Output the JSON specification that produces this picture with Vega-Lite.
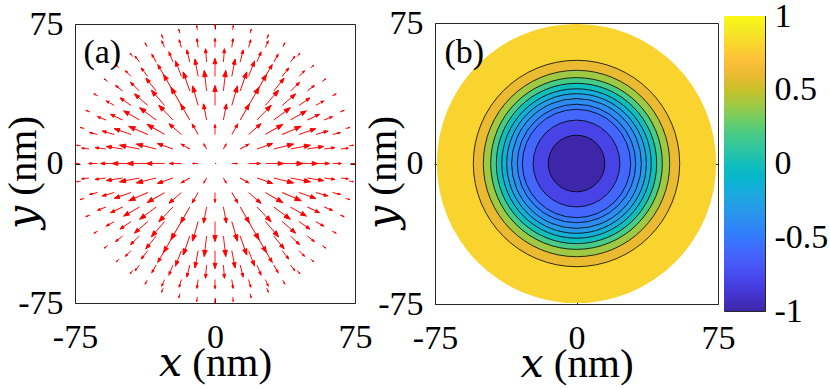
{
"$schema": "https://vega.github.io/schema/vega-lite/v6.json",
"padding": {"left": 2, "top": -2, "right": 0, "bottom": 0},
"config": {
  "font": "Liberation Serif",
  "view": {"stroke": "#262626", "strokeWidth": 1},
  "axis": {"grid": false, "domain": false, "tickSize": -5, "tickColor": "#262626", "tickWidth": 1, "labelFont": "Liberation Serif", "labelFontSize": 34, "labelColor": "#000000", "titleFont": "Liberation Serif, DejaVu Serif", "titleFontSize": 41, "titleFontWeight": "normal", "titleColor": "#000000", "zindex": 1, "labelFlush": false, "labelOverlap": false, "labelBound": false},
  "axisX": {"labelPadding": 22},
  "axisY": {"labelPadding": 17}
},
"datasets": {
  "arrows": [
{"x":0,"y":0,"m":0.05,"p":0},
{"x":9,"y":0,"m":0.27,"p":0},{"x":-9,"y":0,"m":0.27,"p":180},
{"x":18,"y":0,"m":0.57,"p":0},{"x":-18,"y":0,"m":0.57,"p":180},
{"x":27,"y":0,"m":0.87,"p":0},{"x":-27,"y":0,"m":0.87,"p":180},
{"x":36,"y":0,"m":1,"p":0},{"x":-36,"y":0,"m":1,"p":180},
{"x":45,"y":0,"m":0.9,"p":0},{"x":-45,"y":0,"m":0.9,"p":180},
{"x":54,"y":0,"m":0.65,"p":0},{"x":-54,"y":0,"m":0.65,"p":180},
{"x":63,"y":0,"m":0.42,"p":0},{"x":-63,"y":0,"m":0.42,"p":180},
{"x":4.5,"y":7.8,"m":0.27,"p":60},{"x":-4.5,"y":7.8,"m":0.27,"p":120},{"x":-4.5,"y":-7.8,"m":0.27,"p":240},{"x":4.5,"y":-7.8,"m":0.27,"p":300},
{"x":13.5,"y":7.8,"m":0.47,"p":30},{"x":-13.5,"y":7.8,"m":0.47,"p":150},{"x":-13.5,"y":-7.8,"m":0.47,"p":210},{"x":13.5,"y":-7.8,"m":0.47,"p":330},
{"x":22.5,"y":7.8,"m":0.78,"p":19.1},{"x":-22.5,"y":7.8,"m":0.78,"p":160.9},{"x":-22.5,"y":-7.8,"m":0.78,"p":199.1},{"x":22.5,"y":-7.8,"m":0.78,"p":340.9},
{"x":31.5,"y":7.8,"m":0.97,"p":13.9},{"x":-31.5,"y":7.8,"m":0.97,"p":166.1},{"x":-31.5,"y":-7.8,"m":0.97,"p":193.9},{"x":31.5,"y":-7.8,"m":0.97,"p":346.1},
{"x":40.5,"y":7.8,"m":0.96,"p":10.9},{"x":-40.5,"y":7.8,"m":0.96,"p":169.1},{"x":-40.5,"y":-7.8,"m":0.96,"p":190.9},{"x":40.5,"y":-7.8,"m":0.96,"p":349.1},
{"x":49.5,"y":7.8,"m":0.78,"p":9},{"x":-49.5,"y":7.8,"m":0.78,"p":171},{"x":-49.5,"y":-7.8,"m":0.78,"p":189},{"x":49.5,"y":-7.8,"m":0.78,"p":351},
{"x":58.5,"y":7.8,"m":0.51,"p":7.6},{"x":-58.5,"y":7.8,"m":0.51,"p":172.4},{"x":-58.5,"y":-7.8,"m":0.51,"p":187.6},{"x":58.5,"y":-7.8,"m":0.51,"p":352.4},
{"x":67.5,"y":7.8,"m":0.35,"p":6.6},{"x":-67.5,"y":7.8,"m":0.35,"p":173.4},{"x":-67.5,"y":-7.8,"m":0.35,"p":186.6},{"x":67.5,"y":-7.8,"m":0.35,"p":353.4},
{"x":0,"y":15.6,"m":0.47,"p":90},{"x":0,"y":-15.6,"m":0.47,"p":270},
{"x":9,"y":15.6,"m":0.57,"p":60},{"x":-9,"y":15.6,"m":0.57,"p":120},{"x":-9,"y":-15.6,"m":0.57,"p":240},{"x":9,"y":-15.6,"m":0.57,"p":300},
{"x":18,"y":15.6,"m":0.78,"p":40.9},{"x":-18,"y":15.6,"m":0.78,"p":139.1},{"x":-18,"y":-15.6,"m":0.78,"p":220.9},{"x":18,"y":-15.6,"m":0.78,"p":319.1},
{"x":27,"y":15.6,"m":0.95,"p":30},{"x":-27,"y":15.6,"m":0.95,"p":150},{"x":-27,"y":-15.6,"m":0.95,"p":210},{"x":27,"y":-15.6,"m":0.95,"p":330},
{"x":36,"y":15.6,"m":0.98,"p":23.4},{"x":-36,"y":15.6,"m":0.98,"p":156.6},{"x":-36,"y":-15.6,"m":0.98,"p":203.4},{"x":36,"y":-15.6,"m":0.98,"p":336.6},
{"x":45,"y":15.6,"m":0.84,"p":19.1},{"x":-45,"y":15.6,"m":0.84,"p":160.9},{"x":-45,"y":-15.6,"m":0.84,"p":199.1},{"x":45,"y":-15.6,"m":0.84,"p":340.9},
{"x":54,"y":15.6,"m":0.59,"p":16.1},{"x":-54,"y":15.6,"m":0.59,"p":163.9},{"x":-54,"y":-15.6,"m":0.59,"p":196.1},{"x":54,"y":-15.6,"m":0.59,"p":343.9},
{"x":63,"y":15.6,"m":0.38,"p":13.9},{"x":-63,"y":15.6,"m":0.38,"p":166.1},{"x":-63,"y":-15.6,"m":0.38,"p":193.9},{"x":63,"y":-15.6,"m":0.38,"p":346.1},
{"x":4.5,"y":23.4,"m":0.78,"p":79.1},{"x":-4.5,"y":23.4,"m":0.78,"p":100.9},{"x":-4.5,"y":-23.4,"m":0.78,"p":259.1},{"x":4.5,"y":-23.4,"m":0.78,"p":280.9},
{"x":13.5,"y":23.4,"m":0.87,"p":60},{"x":-13.5,"y":23.4,"m":0.87,"p":120},{"x":-13.5,"y":-23.4,"m":0.87,"p":240},{"x":13.5,"y":-23.4,"m":0.87,"p":300},
{"x":22.5,"y":23.4,"m":0.97,"p":46.1},{"x":-22.5,"y":23.4,"m":0.97,"p":133.9},{"x":-22.5,"y":-23.4,"m":0.97,"p":226.1},{"x":22.5,"y":-23.4,"m":0.97,"p":313.9},
{"x":31.5,"y":23.4,"m":0.98,"p":36.6},{"x":-31.5,"y":23.4,"m":0.98,"p":143.4},{"x":-31.5,"y":-23.4,"m":0.98,"p":216.6},{"x":31.5,"y":-23.4,"m":0.98,"p":323.4},
{"x":40.5,"y":23.4,"m":0.86,"p":30},{"x":-40.5,"y":23.4,"m":0.86,"p":150},{"x":-40.5,"y":-23.4,"m":0.86,"p":210},{"x":40.5,"y":-23.4,"m":0.86,"p":330},
{"x":49.5,"y":23.4,"m":0.63,"p":25.3},{"x":-49.5,"y":23.4,"m":0.63,"p":154.7},{"x":-49.5,"y":-23.4,"m":0.63,"p":205.3},{"x":49.5,"y":-23.4,"m":0.63,"p":334.7},
{"x":58.5,"y":23.4,"m":0.42,"p":21.8},{"x":-58.5,"y":23.4,"m":0.42,"p":158.2},{"x":-58.5,"y":-23.4,"m":0.42,"p":201.8},{"x":58.5,"y":-23.4,"m":0.42,"p":338.2},
{"x":0,"y":31.2,"m":0.95,"p":90},{"x":0,"y":-31.2,"m":0.95,"p":270},
{"x":9,"y":31.2,"m":0.97,"p":73.9},{"x":-9,"y":31.2,"m":0.97,"p":106.1},{"x":-9,"y":-31.2,"m":0.97,"p":253.9},{"x":9,"y":-31.2,"m":0.97,"p":286.1},
{"x":18,"y":31.2,"m":1,"p":60},{"x":-18,"y":31.2,"m":1,"p":120},{"x":-18,"y":-31.2,"m":1,"p":240},{"x":18,"y":-31.2,"m":1,"p":300},
{"x":27,"y":31.2,"m":0.96,"p":49.1},{"x":-27,"y":31.2,"m":0.96,"p":130.9},{"x":-27,"y":-31.2,"m":0.96,"p":229.1},{"x":27,"y":-31.2,"m":0.96,"p":310.9},
{"x":36,"y":31.2,"m":0.84,"p":40.9},{"x":-36,"y":31.2,"m":0.84,"p":139.1},{"x":-36,"y":-31.2,"m":0.84,"p":220.9},{"x":36,"y":-31.2,"m":0.84,"p":319.1},
{"x":45,"y":31.2,"m":0.63,"p":34.7},{"x":-45,"y":31.2,"m":0.63,"p":145.3},{"x":-45,"y":-31.2,"m":0.63,"p":214.7},{"x":45,"y":-31.2,"m":0.63,"p":325.3},
{"x":54,"y":31.2,"m":0.43,"p":30},{"x":-54,"y":31.2,"m":0.43,"p":150},{"x":-54,"y":-31.2,"m":0.43,"p":210},{"x":54,"y":-31.2,"m":0.43,"p":330},
{"x":4.5,"y":39,"m":0.98,"p":83.4},{"x":-4.5,"y":39,"m":0.98,"p":96.6},{"x":-4.5,"y":-39,"m":0.98,"p":263.4},{"x":4.5,"y":-39,"m":0.98,"p":276.6},
{"x":13.5,"y":39,"m":0.96,"p":70.9},{"x":-13.5,"y":39,"m":0.96,"p":109.1},{"x":-13.5,"y":-39,"m":0.96,"p":250.9},{"x":13.5,"y":-39,"m":0.96,"p":289.1},
{"x":22.5,"y":39,"m":0.9,"p":60},{"x":-22.5,"y":39,"m":0.9,"p":120},{"x":-22.5,"y":-39,"m":0.9,"p":240},{"x":22.5,"y":-39,"m":0.9,"p":300},
{"x":31.5,"y":39,"m":0.78,"p":51.1},{"x":-31.5,"y":39,"m":0.78,"p":128.9},{"x":-31.5,"y":-39,"m":0.78,"p":231.1},{"x":31.5,"y":-39,"m":0.78,"p":308.9},
{"x":40.5,"y":39,"m":0.59,"p":43.9},{"x":-40.5,"y":39,"m":0.59,"p":136.1},{"x":-40.5,"y":-39,"m":0.59,"p":223.9},{"x":40.5,"y":-39,"m":0.59,"p":316.1},
{"x":49.5,"y":39,"m":0.42,"p":38.2},{"x":-49.5,"y":39,"m":0.42,"p":141.8},{"x":-49.5,"y":-39,"m":0.42,"p":218.2},{"x":49.5,"y":-39,"m":0.42,"p":321.8},
{"x":0,"y":46.8,"m":0.86,"p":90},{"x":0,"y":-46.8,"m":0.86,"p":270},
{"x":9,"y":46.8,"m":0.84,"p":79.1},{"x":-9,"y":46.8,"m":0.84,"p":100.9},{"x":-9,"y":-46.8,"m":0.84,"p":259.1},{"x":9,"y":-46.8,"m":0.84,"p":280.9},
{"x":18,"y":46.8,"m":0.78,"p":69},{"x":-18,"y":46.8,"m":0.78,"p":111},{"x":-18,"y":-46.8,"m":0.78,"p":249},{"x":18,"y":-46.8,"m":0.78,"p":291},
{"x":27,"y":46.8,"m":0.65,"p":60},{"x":-27,"y":46.8,"m":0.65,"p":120},{"x":-27,"y":-46.8,"m":0.65,"p":240},{"x":27,"y":-46.8,"m":0.65,"p":300},
{"x":36,"y":46.8,"m":0.51,"p":52.4},{"x":-36,"y":46.8,"m":0.51,"p":127.6},{"x":-36,"y":-46.8,"m":0.51,"p":232.4},{"x":36,"y":-46.8,"m":0.51,"p":307.6},
{"x":45,"y":46.8,"m":0.38,"p":46.1},{"x":-45,"y":46.8,"m":0.38,"p":133.9},{"x":-45,"y":-46.8,"m":0.38,"p":226.1},{"x":45,"y":-46.8,"m":0.38,"p":313.9},
{"x":4.5,"y":54.6,"m":0.63,"p":85.3},{"x":-4.5,"y":54.6,"m":0.63,"p":94.7},{"x":-4.5,"y":-54.6,"m":0.63,"p":265.3},{"x":4.5,"y":-54.6,"m":0.63,"p":274.7},
{"x":13.5,"y":54.6,"m":0.59,"p":76.1},{"x":-13.5,"y":54.6,"m":0.59,"p":103.9},{"x":-13.5,"y":-54.6,"m":0.59,"p":256.1},{"x":13.5,"y":-54.6,"m":0.59,"p":283.9},
{"x":22.5,"y":54.6,"m":0.51,"p":67.6},{"x":-22.5,"y":54.6,"m":0.51,"p":112.4},{"x":-22.5,"y":-54.6,"m":0.51,"p":247.6},{"x":22.5,"y":-54.6,"m":0.51,"p":292.4},
{"x":31.5,"y":54.6,"m":0.42,"p":60},{"x":-31.5,"y":54.6,"m":0.42,"p":120},{"x":-31.5,"y":-54.6,"m":0.42,"p":240},{"x":31.5,"y":-54.6,"m":0.42,"p":300},
{"x":40.5,"y":54.6,"m":0.34,"p":53.4},{"x":-40.5,"y":54.6,"m":0.34,"p":126.6},{"x":-40.5,"y":-54.6,"m":0.34,"p":233.4},{"x":40.5,"y":-54.6,"m":0.34,"p":306.6},
{"x":0,"y":62.4,"m":0.43,"p":90},{"x":0,"y":-62.4,"m":0.43,"p":270},
{"x":9,"y":62.4,"m":0.42,"p":81.8},{"x":-9,"y":62.4,"m":0.42,"p":98.2},{"x":-9,"y":-62.4,"m":0.42,"p":261.8},{"x":9,"y":-62.4,"m":0.42,"p":278.2},
{"x":18,"y":62.4,"m":0.38,"p":73.9},{"x":-18,"y":62.4,"m":0.38,"p":106.1},{"x":-18,"y":-62.4,"m":0.38,"p":253.9},{"x":18,"y":-62.4,"m":0.38,"p":286.1},
{"x":27,"y":62.4,"m":0.34,"p":66.6},{"x":-27,"y":62.4,"m":0.34,"p":113.4},{"x":-27,"y":-62.4,"m":0.34,"p":246.6},{"x":27,"y":-62.4,"m":0.34,"p":293.4},
{"x":72.5,"y":0,"m":0.2,"p":0},{"x":71.9,"y":9.5,"m":0.2,"p":7.5},{"x":70.0,"y":18.8,"m":0.2,"p":15},{"x":67.0,"y":27.7,"m":0.2,"p":22.5},{"x":62.8,"y":36.3,"m":0.2,"p":30},{"x":57.5,"y":44.1,"m":0.2,"p":37.5},{"x":51.3,"y":51.3,"m":0.2,"p":45},{"x":44.1,"y":57.5,"m":0.2,"p":52.5},{"x":36.3,"y":62.8,"m":0.2,"p":60},{"x":27.7,"y":67.0,"m":0.2,"p":67.5},{"x":18.8,"y":70.0,"m":0.2,"p":75},{"x":9.5,"y":71.9,"m":0.2,"p":82.5},
{"x":0,"y":72.5,"m":0.2,"p":90},{"x":-9.5,"y":71.9,"m":0.2,"p":97.5},{"x":-18.8,"y":70.0,"m":0.2,"p":105},{"x":-27.7,"y":67.0,"m":0.2,"p":112.5},{"x":-36.3,"y":62.8,"m":0.2,"p":120},{"x":-44.1,"y":57.5,"m":0.2,"p":127.5},{"x":-51.3,"y":51.3,"m":0.2,"p":135},{"x":-57.5,"y":44.1,"m":0.2,"p":142.5},{"x":-62.8,"y":36.3,"m":0.2,"p":150},{"x":-67.0,"y":27.7,"m":0.2,"p":157.5},{"x":-70.0,"y":18.8,"m":0.2,"p":165},{"x":-71.9,"y":9.5,"m":0.2,"p":172.5},
{"x":-72.5,"y":0,"m":0.2,"p":180},{"x":-71.9,"y":-9.5,"m":0.2,"p":187.5},{"x":-70.0,"y":-18.8,"m":0.2,"p":195},{"x":-67.0,"y":-27.7,"m":0.2,"p":202.5},{"x":-62.8,"y":-36.3,"m":0.2,"p":210},{"x":-57.5,"y":-44.1,"m":0.2,"p":217.5},{"x":-51.3,"y":-51.3,"m":0.2,"p":225},{"x":-44.1,"y":-57.5,"m":0.2,"p":232.5},{"x":-36.3,"y":-62.8,"m":0.2,"p":240},{"x":-27.7,"y":-67.0,"m":0.2,"p":247.5},{"x":-18.8,"y":-70.0,"m":0.2,"p":255},{"x":-9.5,"y":-71.9,"m":0.2,"p":262.5},
{"x":0,"y":-72.5,"m":0.2,"p":270},{"x":9.5,"y":-71.9,"m":0.2,"p":277.5},{"x":18.8,"y":-70.0,"m":0.2,"p":285},{"x":27.7,"y":-67.0,"m":0.2,"p":292.5},{"x":36.3,"y":-62.8,"m":0.2,"p":300},{"x":44.1,"y":-57.5,"m":0.2,"p":307.5},{"x":51.3,"y":-51.3,"m":0.2,"p":315},{"x":57.5,"y":-44.1,"m":0.2,"p":322.5},{"x":62.8,"y":-36.3,"m":0.2,"p":330},{"x":67.0,"y":-27.7,"m":0.2,"p":337.5},{"x":70.0,"y":-18.8,"m":0.2,"p":345},{"x":71.9,"y":-9.5,"m":0.2,"p":352.5}
  ],
  "bands": [
{"r":74,"v":0.8},
{"r":54.7,"v":0.6},
{"r":49.4,"v":0.4},
{"r":45.5,"v":0.2},
{"r":42.5,"v":0.0},
{"r":39.6,"v":-0.16},
{"r":37.0,"v":-0.3},
{"r":34.4,"v":-0.4},
{"r":31.4,"v":-0.5},
{"r":28.7,"v":-0.6},
{"r":23.0,"v":-0.8},
{"r":15.0,"v":-1.0}
  ]
},
"bounds": "flush",
"center": true,
"spacing": 6,
"resolve": {"scale": {"size": "independent"}},
"hconcat": [
  {
    "width": 280, "height": 279,
    "layer": [
      {
        "data": {"name": "arrows"},
        "mark": {"type": "point", "shape": "M0,0L0,-1M-0.11,-0.7L0,-1L0.11,-0.7Z", "filled": true, "fill": "#ff0000", "stroke": "#ff0000", "strokeWidth": 0.9, "opacity": 1},
        "encoding": {
          "x": {"field": "x", "type": "quantitative", "scale": {"domain": [-75, 75], "nice": false, "zero": false},
                "axis": {"values": [-75, 0, 75], "labelExpr": "replace(datum.label, '−', '-')", "title": "𝑥 (nm)", "titleBaseline": "alphabetic", "titleY": 72}},
          "y": {"field": "y", "type": "quantitative", "scale": {"domain": [-75, 75], "nice": false, "zero": false},
                "axis": {"values": [-75, 0, 75], "labelExpr": "replace(datum.label, '−', '-')", "title": "𝑦 (nm)", "titleBaseline": "alphabetic", "titleX": -39.5, "titleY": 148}},
          "size": {"field": "m", "type": "quantitative", "scale": {"type": "pow", "exponent": 2, "domain": [0, 1], "range": [0, 1764]}, "legend": null},
          "angle": {"field": "p", "type": "quantitative", "scale": {"domain": [0, 360], "range": [90, -270]}}
        }
      },
      {
        "data": {"values": [{}]},
        "mark": {"type": "text", "align": "left", "baseline": "alphabetic", "fontSize": 34, "font": "Liberation Serif", "color": "#000000"},
        "encoding": {
          "x": {"datum": -70.5, "type": "quantitative", "scale": {"domain": [-75, 75], "nice": false, "zero": false},
                "axis": {"orient": "top", "values": [0], "labels": false, "title": null}},
          "y": {"datum": 53.8, "type": "quantitative", "scale": {"domain": [-75, 75], "nice": false, "zero": false},
                "axis": {"orient": "right", "values": [0], "labels": false, "title": null}},
          "text": {"value": "(a)"}
        }
      }
    ],
    "resolve": {"axis": {"x": "independent", "y": "independent"}}
  },
  {
    "width": 67.2, "height": 10,
    "view": {"stroke": null},
    "data": {"values": [{}]},
    "mark": {"type": "point", "opacity": 0},
    "encoding": {}
  },
  {
    "width": 283, "height": 281,
    "layer": [
      {
        "data": {"name": "bands"},
        "mark": {"type": "point", "shape": "circle", "filled": true, "opacity": 1, "stroke": "#000000"},
        "encoding": {
          "x": {"datum": 0, "type": "quantitative", "scale": {"domain": [-75, 75], "nice": false, "zero": false},
                "axis": {"values": [-75, 0, 75], "labelExpr": "replace(datum.label, '−', '-')", "title": "𝑥 (nm)", "titleBaseline": "alphabetic", "titleY": 72}},
          "y": {"datum": 0, "type": "quantitative", "scale": {"domain": [-75, 75], "nice": false, "zero": false},
                "axis": {"values": [-75, 0, 75], "labelExpr": "replace(datum.label, '−', '-')", "title": "𝑦 (nm)", "titleBaseline": "alphabetic", "titleX": -39.5, "titleY": 149}},
          "size": {"field": "r", "type": "quantitative", "scale": {"type": "pow", "exponent": 2, "domain": [0, 75], "range": [0, 80089]}, "legend": null},
          "strokeWidth": {"condition": {"test": "datum.r > 70", "value": 0}, "value": 0.8},
          "fill": {"field": "v", "type": "quantitative",
                   "scale": {"domain": [-1,-0.9,-0.8,-0.7,-0.6,-0.5,-0.4,-0.3,-0.2,-0.1,0,0.1,0.2,0.3,0.4,0.5,0.6,0.7,0.8,0.9,1],
                             "range": ["#3e26a8","#4433cc","#4743e7","#4755f6","#4367fd","#347afd","#2d8cf3","#259ce7","#1caadf","#05b6ce","#12beb9","#2fc5a2","#48cb86","#71cd64","#9fc942","#c8c129","#eaba30","#fec13a","#fad42e","#f5e825","#f9fb15"],
                             "interpolate": "rgb"},
                   "legend": null}
        }
      },
      {
        "data": {"values": [{}]},
        "mark": {"type": "text", "align": "left", "baseline": "alphabetic", "fontSize": 34, "font": "Liberation Serif", "color": "#000000"},
        "encoding": {
          "x": {"datum": -70, "type": "quantitative", "scale": {"domain": [-75, 75], "nice": false, "zero": false},
                "axis": {"orient": "top", "values": [0], "labels": false, "title": null}},
          "y": {"datum": 53.8, "type": "quantitative", "scale": {"domain": [-75, 75], "nice": false, "zero": false},
                "axis": {"orient": "right", "values": [0], "labels": false, "title": null}},
          "text": {"value": "(b)"}
        }
      }
    ],
    "resolve": {"axis": {"x": "independent", "y": "independent"}}
  },
  {
    "width": 41, "height": 295,
    "data": {"values": [{}]},
    "mark": {"type": "rect", "fill": {"gradient": "linear", "x1": 0, "y1": 1, "x2": 0, "y2": 0,
      "stops": [
        {"offset": 0, "color": "#3e26a8"}, {"offset": 0.05, "color": "#4433cc"}, {"offset": 0.1, "color": "#4743e7"}, {"offset": 0.15, "color": "#4755f6"},
        {"offset": 0.2, "color": "#4367fd"}, {"offset": 0.25, "color": "#347afd"}, {"offset": 0.3, "color": "#2d8cf3"}, {"offset": 0.35, "color": "#259ce7"},
        {"offset": 0.4, "color": "#1caadf"}, {"offset": 0.45, "color": "#05b6ce"}, {"offset": 0.5, "color": "#12beb9"}, {"offset": 0.55, "color": "#2fc5a2"},
        {"offset": 0.6, "color": "#48cb86"}, {"offset": 0.65, "color": "#71cd64"}, {"offset": 0.7, "color": "#9fc942"}, {"offset": 0.75, "color": "#c8c129"},
        {"offset": 0.8, "color": "#eaba30"}, {"offset": 0.85, "color": "#fec13a"}, {"offset": 0.9, "color": "#fad42e"}, {"offset": 0.95, "color": "#f5e825"},
        {"offset": 1, "color": "#f9fb15"}]}},
    "encoding": {
      "x": {"datum": 0, "type": "quantitative", "scale": {"domain": [0, 1], "nice": false, "zero": false}, "axis": null},
      "x2": {"datum": 1},
      "y": {"datum": -1, "type": "quantitative", "scale": {"domain": [-1, 1], "nice": false, "zero": false},
            "axis": {"orient": "right", "values": [-1, -0.5, 0, 0.5, 1], "title": null, "tickSize": -4, "labelPadding": 13, "labelAlign": "left",
                     "labelExpr": "(datum.value < 0 ? '-' : '') + format(abs(datum.value), '')"}},
      "y2": {"datum": 1}
    }
  }
]
}
